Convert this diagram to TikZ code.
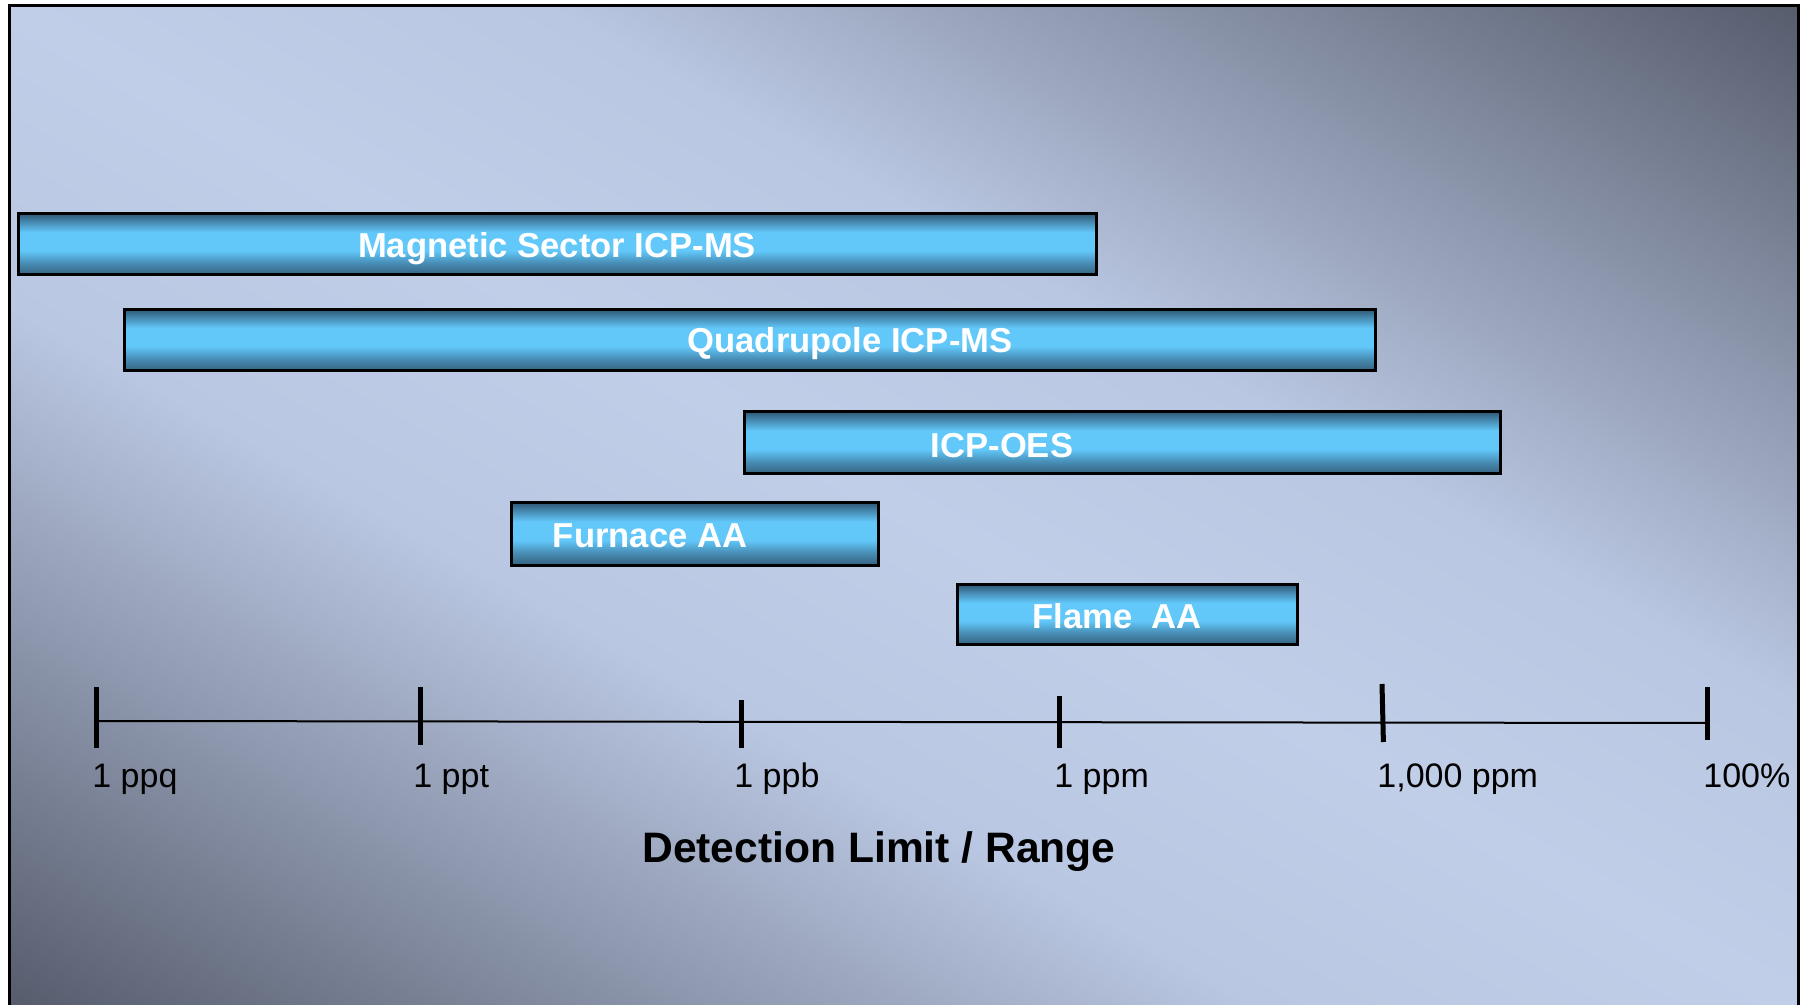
\documentclass[tikz,border=0pt]{standalone}
\usepackage{fontspec}
\setmainfont{Liberation Sans}
\definecolor{bglight}{RGB}{193,206,232}
\definecolor{bglight2}{RGB}{186,199,226}
\definecolor{bgdark}{RGB}{86,92,108}
\definecolor{bardark}{RGB}{54,98,126}
\definecolor{bartop}{RGB}{48,90,120}
\definecolor{barmid}{RGB}{72,142,182}
\definecolor{barlight}{RGB}{98,200,250}
\pgfdeclareverticalshading{bgshade}{100bp}{color(0bp)=(bgdark); color(25bp)=(bgdark); color(42.5bp)=(bglight2); color(50bp)=(bglight); color(57.5bp)=(bglight2); color(75bp)=(bgdark); color(100bp)=(bgdark)}
\pgfdeclareverticalshading{barshade}{100bp}{color(0bp)=(bardark); color(25bp)=(bardark); color(35bp)=(barmid); color(45bp)=(barlight); color(60bp)=(barlight); color(68bp)=(barmid); color(75bp)=(bartop); color(100bp)=(bartop)}
\begin{document}
\begin{tikzpicture}[x=0.5pt,y=-0.5pt,
  barbox/.style={draw=black, line width=1.5pt, shading=barshade, inner sep=0pt, outer sep=0pt},
  barlabel/.style={text=white, font=\fontsize{17.3pt}{20pt}\selectfont\bfseries, inner sep=0pt, text height=12.39pt, text depth=0pt},
  axislabel/.style={anchor=west, font=\fontsize{17pt}{20pt}\selectfont, inner sep=0pt, text height=12.17pt, text depth=0pt},
  tickmark/.style={line width=2.5pt},
  axisline/.style={line width=1pt}]
\useasboundingbox (0,0) rectangle (1805,1005);
\fill[white] (0,0) rectangle (1805,1005);
\begin{scope}
  \clip (9,6) rectangle (1798,1012);
  \fill[bgdark] (0,0) rectangle (1805,1005);
  \begin{scope}[transform canvas={rotate around={-29.2:(903,505)}}]
    \shade[shading=bgshade] (-397,-368) rectangle (2203,1378);
  \end{scope}
\end{scope}
\draw[line width=1.5pt] (9,1020) -- (9,6) -- (1798,6) -- (1798,1020);

% bars
\node[barbox, minimum width=539pt, minimum height=30.5pt] (mag) at (557,244.5) {};
\node[barbox, minimum width=625.5pt, minimum height=30.5pt] (quad) at (750,340.2) {};
\node[barbox, minimum width=378pt, minimum height=31pt] (oes) at (1122,443) {};
\node[barbox, minimum width=183.5pt, minimum height=31pt] (furn) at (694.5,534) {};
\node[barbox, minimum width=170pt, minimum height=30pt] (flame) at (1127.6,614.8) {};

\node[barlabel] (lmag) at (557,245) {Magnetic Sector ICP-MS};
\node[barlabel] (lquad) at (850,340) {Quadrupole ICP-MS};
\node[barlabel] (loes) at (1002,445) {ICP-OES};
\node[barlabel] (lfurn) at (650,535) {Furnace AA};
\node[barlabel] (lflame) at (1117,616) {Flame\ \ AA};

% axis
\coordinate (a1) at (97,721);
\coordinate (a6) at (1707,723);
\draw[axisline] (a1) -- (a6);
\draw[tickmark] (96.7,687) -- (96.7,748);
\draw[tickmark] (420.2,687) -- (420.2,745);
\draw[tickmark] (741.4,700) -- (741.4,748);
\draw[tickmark] (1059.1,696) -- (1059.1,748);
\draw[tickmark] (1382,684) -- (1383.4,742);
\draw[tickmark] (1707.2,687) -- (1707.2,740);

\node[axislabel] (l1) at (92,775) {1 ppq};
\node[axislabel] (l2) at (413,775) {1 ppt};
\node[axislabel] (l3) at (734,775) {1 ppb};
\node[axislabel] (l4) at (1054,775) {1 ppm};
\node[axislabel] (l5) at (1377,775) {1,000 ppm};
\node[axislabel] (l6) at (1703,775) {100\%};

\node[font=\fontsize{21.3pt}{25pt}\selectfont\bfseries, inner sep=0pt, text height=15.25pt, text depth=0pt] (title) at (879,847) {Detection Limit / Range};
\end{tikzpicture}
\end{document}
